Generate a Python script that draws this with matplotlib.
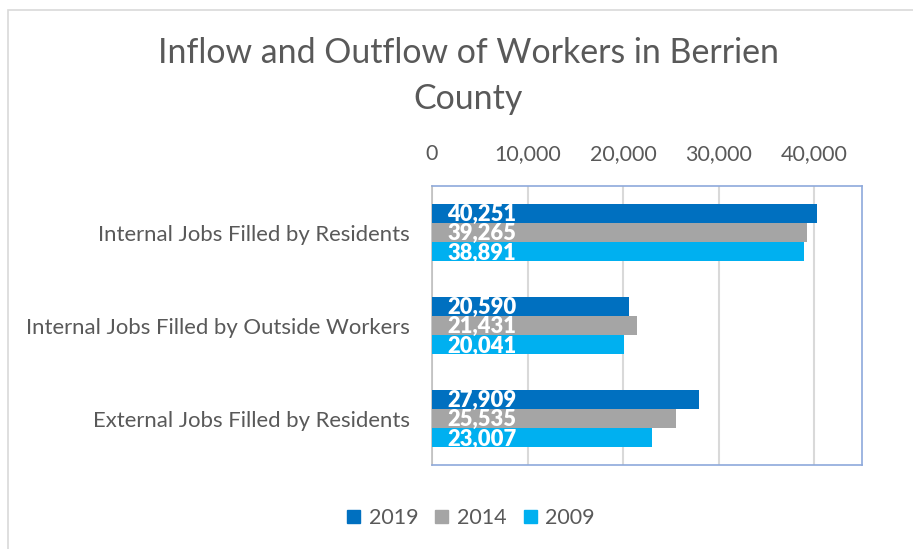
import matplotlib
matplotlib.use("Agg")
import matplotlib.pyplot as plt
import matplotlib.patches as mpatches
import numpy as np
from matplotlib.ticker import FuncFormatter

categories = ["Internal Jobs Filled by Residents",
              "Internal Jobs Filled by Outside Workers",
              "External Jobs Filled by Residents"]
years = ["2019", "2014", "2009"]
v2019 = [40251, 20590, 27909]
v2014 = [39265, 21431, 25535]
v2009 = [38891, 20041, 23007]
series = [v2019, v2014, v2009]
colors = ["#0070C0", "#A5A5A5", "#00B0F0"]

plt.rcParams['font.family'] = ['Lato', 'DejaVu Sans']
fig = plt.figure(figsize=(9.13, 5.49), dpi=100)
fig.patch.set_facecolor("white")

# outer chart border
fig.add_artist(mpatches.Rectangle((8/913, -0.1), 1.0, 1 - 10/549 + 0.1,
                                  transform=fig.transFigure, fill=False,
                                  edgecolor="#D9D9D9", linewidth=1.2))

ax = fig.add_axes([432/913, 1 - 465/549, 430/913, 279/549])
y = np.arange(len(categories))
h = 0.205
for i, (vals, col, yr) in enumerate(zip(series, colors, years)):
    pos = y + (i - 1) * h
    ax.barh(pos, vals, height=h, color=col, label=yr, zorder=3)
    for p, v in zip(pos, vals):
        ax.text(1600, p + 0.015, f"{v:,}", color="white", fontsize=15.8, fontweight="heavy",
                va="center", ha="left", zorder=4)

ax.set_ylim(2.5, -0.5)
ax.set_xlim(0, 45000)
ax.set_xticks([0, 10000, 20000, 30000, 40000])
ax.xaxis.set_major_formatter(FuncFormatter(lambda v, p: f"{int(v):,}"))
ax.xaxis.tick_top()
ax.tick_params(axis="x", length=0, labelsize=15.5, labelcolor="#595959", pad=16)
ax.set_yticks(y)
ax.set_yticklabels(categories)
ax.tick_params(axis="y", length=0, labelsize=15.9, labelcolor="#595959", pad=16)
ax.grid(axis="x", color="#D9D9D9", linewidth=1.5, zorder=0)
for s in ax.spines.values():
    s.set_color("#8EA9DB")
    s.set_linewidth(1.2)
ax.spines["left"].set_color("#BFBFBF")

fig.text(468/913, 1 - 76/549, "Inflow and Outflow of Workers in Berrien\nCounty",
         ha="center", va="center", fontsize=24.4, color="#595959", linespacing=1.55)

handles = [mpatches.Patch(color=c) for c in colors]
fig.legend(handles, years, loc="center", bbox_to_anchor=(471/913, 1 - 518/549),
           ncol=3, frameon=False, fontsize=15.5, handlelength=0.6, handleheight=0.6,
           handletextpad=0.4, columnspacing=0.8, labelcolor="#595959")

fig.savefig("out.png", dpi=100)
